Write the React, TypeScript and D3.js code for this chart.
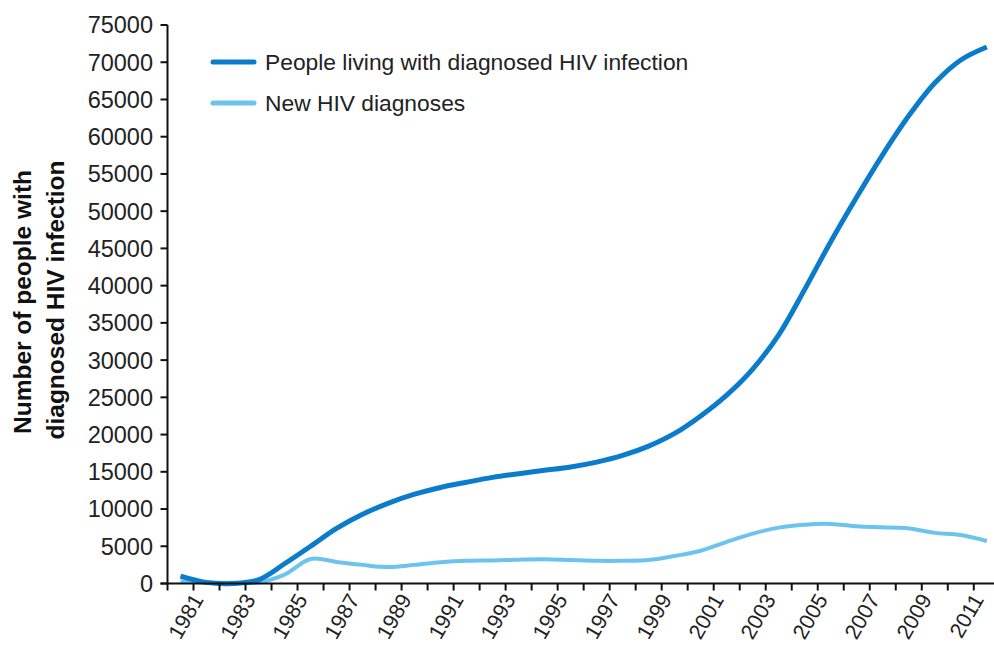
import React, { useEffect, useRef } from "react";
import * as d3 from "d3";

const years = d3.range(1980, 2012);
const peopleLiving = [1000, 150, 0, 500, 2650, 5000, 7400, 9300, 10800, 12000, 12900, 13600, 14250, 14750, 15200, 15650, 16300, 17200, 18450, 20150, 22500, 25300, 28800, 33400, 39500, 45900, 51900, 57600, 62800, 67200, 70300, 72050];
const newDiagnoses = [300, 150, 100, 150, 1200, 3300, 2900, 2500, 2200, 2500, 2850, 3050, 3100, 3200, 3250, 3150, 3050, 3050, 3150, 3700, 4400, 5600, 6700, 7500, 7900, 8000, 7700, 7550, 7400, 6800, 6500, 5700];
const yTicks = d3.range(0, 75001, 5000);
const xTickYears = d3.range(1980, 2012);
const xLabelYears = d3.range(1981, 2012, 2);
const seriesNames = ["People living with diagnosed HIV infection", "New HIV diagnoses"];
const colors = ["#0a7ccb", "#6cc4ee"];

export default function App() {
  const ref = useRef<SVGSVGElement>(null);
  useEffect(() => {
    const svg = d3.select(ref.current);
    svg.selectAll("*").remove();
    const x = d3.scaleLinear().domain([1980, 2011.7]).range([167.5, 992]);
    const y = d3.scaleLinear().domain([0, 75000]).range([583.5, 25]);
    const font = "'Liberation Sans', Arial, sans-serif";

    // lines
    const line = d3
      .line<number>()
      .x((_, i) => x(years[i] + 0.5))
      .y((d) => y(d))
      .curve(d3.curveCatmullRom.alpha(0.5));
    svg.append("path").attr("d", line(newDiagnoses)).attr("fill", "none").attr("stroke", colors[1]).attr("stroke-width", 4);
    svg.append("path").attr("d", line(peopleLiving)).attr("fill", "none").attr("stroke", colors[0]).attr("stroke-width", 5);

    // y axis
    const ga = svg.append("g").attr("stroke", "#111").attr("stroke-width", 2);
    ga.append("line").attr("x1", x(1980)).attr("x2", x(1980)).attr("y1", y(75000)).attr("y2", y(0));
    yTicks.forEach((t) => {
      ga.append("line").attr("x1", x(1980) - 7).attr("x2", x(1980)).attr("y1", y(t)).attr("y2", y(t));
    });
    svg
      .selectAll("text.yt")
      .data(yTicks)
      .enter()
      .append("text")
      .attr("x", 153)
      .attr("y", (d) => y(d))
      .attr("dy", "0.36em")
      .attr("text-anchor", "end")
      .attr("font-family", font)
      .attr("font-size", 23.5)
      .attr("fill", "#222")
      .text((d) => String(d));

    // x axis
    ga.append("line").attr("x1", x(1980) - 7).attr("x2", 994).attr("y1", y(0)).attr("y2", y(0));
    xTickYears.forEach((t) => {
      ga.append("line").attr("x1", x(t)).attr("x2", x(t)).attr("y1", y(0)).attr("y2", y(0) + 7);
    });
    svg
      .selectAll("text.xt")
      .data(xLabelYears)
      .enter()
      .append("text")
      .attr("transform", (d) => `translate(${x(d) + 4},${y(0) + 12}) rotate(-60)`)
      .attr("dy", "0.36em")
      .attr("text-anchor", "end")
      .attr("font-family", font)
      .attr("font-size", 21.5)
      .attr("fill", "#222")
      .text((d) => String(d));

    // y title
    const tg = svg.append("g").attr("font-family", font).attr("font-size", 24.5).attr("font-weight", "bold").attr("fill", "#111").attr("text-anchor", "middle");
    tg.append("text").attr("transform", "translate(31,302) rotate(-90)").text("Number of people with");
    tg.append("text").attr("transform", "translate(64,300) rotate(-90)").text("diagnosed HIV infection");

    // legend
    seriesNames.forEach((name, i) => {
      const ly = 62 + i * 41;
      svg.append("line").attr("x1", 213).attr("x2", 254).attr("y1", ly).attr("y2", ly).attr("stroke", colors[i]).attr("stroke-width", 5).attr("stroke-linecap", "round");
      svg
        .append("text")
        .attr("x", 265)
        .attr("y", ly)
        .attr("dy", "0.36em")
        .attr("font-family", font)
        .attr("font-size", 22.8)
        .attr("fill", "#222")
        .text(name);
    });
  }, []);
  return (
    <svg ref={ref} width={994} height={646} style={{ position: "absolute", left: 0, top: 0, background: "#fff" }} />
  );
}
